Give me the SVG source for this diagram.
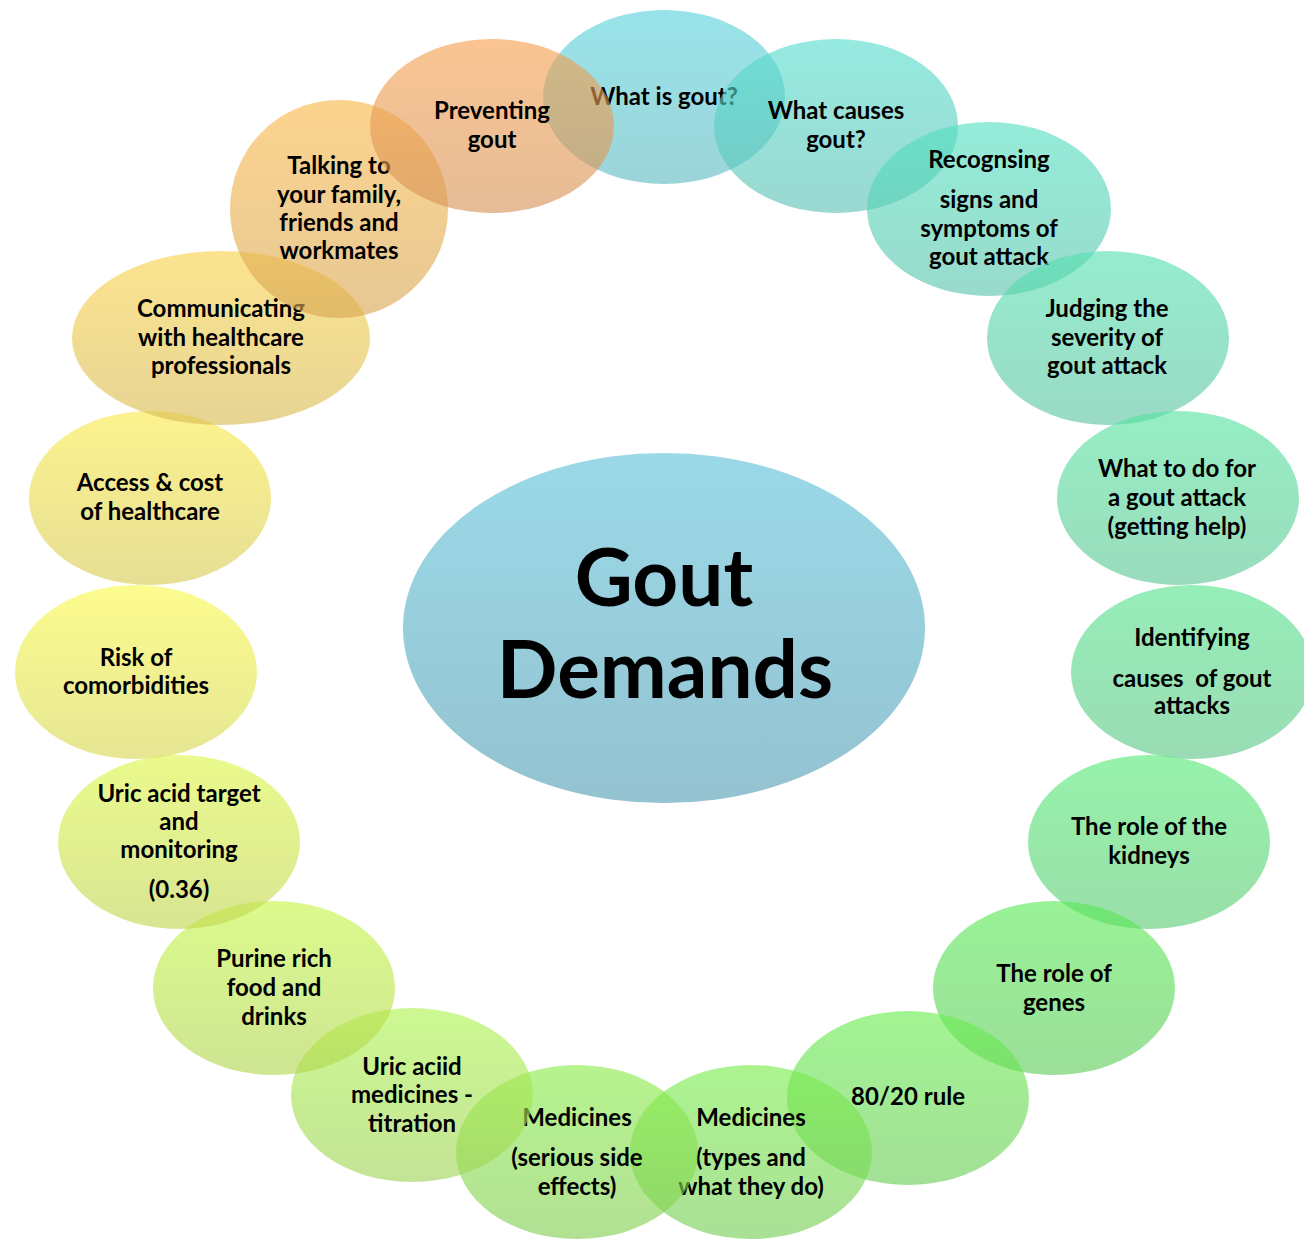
<svg xmlns="http://www.w3.org/2000/svg" width="1304" height="1239" viewBox="0 0 1304 1239">
  <style>
    .t { font-family: Lato, "Open Sans", "Liberation Sans", sans-serif; font-weight: 700; font-size: 24px; text-anchor: middle; fill: #000; white-space: pre; }
    .big { font-size: 80px; }
    .b { fill-opacity: 0.62; }
  </style>
  <defs>
    <linearGradient id="gc" x1="0" y1="0" x2="0" y2="1"><stop offset="0" stop-color="#9bd9e8"/><stop offset="1" stop-color="#94c2d0"/></linearGradient>
    <linearGradient id="g1" x1="0" y1="0" x2="0" y2="1"><stop offset="0" stop-color="rgb(89,211,221)"/><stop offset="1" stop-color="rgb(94,186,193)"/></linearGradient>
    <linearGradient id="g2" x1="0" y1="0" x2="0" y2="1"><stop offset="0" stop-color="rgb(85,221,205)"/><stop offset="1" stop-color="rgb(91,193,181)"/></linearGradient>
    <linearGradient id="g3" x1="0" y1="0" x2="0" y2="1"><stop offset="0" stop-color="rgb(82,224,192)"/><stop offset="1" stop-color="rgb(89,196,172)"/></linearGradient>
    <linearGradient id="g4" x1="0" y1="0" x2="0" y2="1"><stop offset="0" stop-color="rgb(85,224,176)"/><stop offset="1" stop-color="rgb(91,196,160)"/></linearGradient>
    <linearGradient id="g5" x1="0" y1="0" x2="0" y2="1"><stop offset="0" stop-color="rgb(85,227,160)"/><stop offset="1" stop-color="rgb(91,198,148)"/></linearGradient>
    <linearGradient id="g6" x1="0" y1="0" x2="0" y2="1"><stop offset="0" stop-color="rgb(85,227,140)"/><stop offset="1" stop-color="rgb(91,198,133)"/></linearGradient>
    <linearGradient id="g7" x1="0" y1="0" x2="0" y2="1"><stop offset="0" stop-color="rgb(85,234,118)"/><stop offset="1" stop-color="rgb(91,203,116)"/></linearGradient>
    <linearGradient id="g8" x1="0" y1="0" x2="0" y2="1"><stop offset="0" stop-color="rgb(89,234,85)"/><stop offset="1" stop-color="rgb(94,203,91)"/></linearGradient>
    <linearGradient id="g9" x1="0" y1="0" x2="0" y2="1"><stop offset="0" stop-color="rgb(105,237,79)"/><stop offset="1" stop-color="rgb(106,205,87)"/></linearGradient>
    <linearGradient id="g10" x1="0" y1="0" x2="0" y2="1"><stop offset="0" stop-color="rgb(121,237,76)"/><stop offset="1" stop-color="rgb(118,205,85)"/></linearGradient>
    <linearGradient id="g11" x1="0" y1="0" x2="0" y2="1"><stop offset="0" stop-color="rgb(137,237,73)"/><stop offset="1" stop-color="rgb(130,205,82)"/></linearGradient>
    <linearGradient id="g12" x1="0" y1="0" x2="0" y2="1"><stop offset="0" stop-color="rgb(174,244,77)"/><stop offset="1" stop-color="rgb(158,211,85)"/></linearGradient>
    <linearGradient id="g13" x1="0" y1="0" x2="0" y2="1"><stop offset="0" stop-color="rgb(198,247,69)"/><stop offset="1" stop-color="rgb(176,213,79)"/></linearGradient>
    <linearGradient id="g14" x1="0" y1="0" x2="0" y2="1"><stop offset="0" stop-color="rgb(221,247,69)"/><stop offset="1" stop-color="rgb(193,213,79)"/></linearGradient>
    <linearGradient id="g15" x1="0" y1="0" x2="0" y2="1"><stop offset="0" stop-color="rgb(250,250,73)"/><stop offset="1" stop-color="rgb(215,215,82)"/></linearGradient>
    <linearGradient id="g16" x1="0" y1="0" x2="0" y2="1"><stop offset="0" stop-color="rgb(250,234,73)"/><stop offset="1" stop-color="rgb(215,203,82)"/></linearGradient>
    <linearGradient id="g17" x1="0" y1="0" x2="0" y2="1"><stop offset="0" stop-color="rgb(250,211,73)"/><stop offset="1" stop-color="rgb(215,186,82)"/></linearGradient>
    <linearGradient id="g18" x1="0" y1="0" x2="0" y2="1"><stop offset="0" stop-color="rgb(250,185,73)"/><stop offset="1" stop-color="rgb(215,166,82)"/></linearGradient>
    <linearGradient id="g19" x1="0" y1="0" x2="0" y2="1"><stop offset="0" stop-color="rgb(247,160,79)"/><stop offset="1" stop-color="rgb(213,147,87)"/></linearGradient>
  </defs>

  <!-- central topic -->
  <g id="gout-demands">
    <ellipse cx="664" cy="628" rx="261" ry="175" fill="url(#gc)"/>
    <text class="t big" x="664" y="606">Gout</text>
    <text class="t big" x="665" y="698">Demands</text>
  </g>

  <!-- surrounding topics, clockwise from the top; each later bubble overlaps the previous one -->
  <g id="what-is-gout">
    <ellipse class="b" cx="664" cy="97" rx="121" ry="87" fill="url(#g1)"/>
    <text class="t" x="664" y="105">What is gout?</text>
  </g>
  <g id="what-causes-gout">
    <ellipse class="b" cx="836" cy="126" rx="122" ry="87" fill="url(#g2)"/>
    <text class="t" x="836" y="119">What causes</text>
    <text class="t" x="836" y="148">gout?</text>
  </g>
  <g id="recognising-signs">
    <ellipse class="b" cx="989" cy="209" rx="122" ry="87" fill="url(#g3)"/>
    <text class="t" x="989" y="168">Recognsing</text>
    <text class="t" x="989" y="208">signs and</text>
    <text class="t" x="989" y="237">symptoms of</text>
    <text class="t" x="989" y="265">gout attack</text>
  </g>
  <g id="judging-severity">
    <ellipse class="b" cx="1108" cy="338" rx="121" ry="87" fill="url(#g4)"/>
    <text class="t" x="1107" y="317">Judging the</text>
    <text class="t" x="1107" y="346">severity of</text>
    <text class="t" x="1107" y="374">gout attack</text>
  </g>
  <g id="what-to-do">
    <ellipse class="b" cx="1178" cy="498" rx="121" ry="87" fill="url(#g5)"/>
    <text class="t" x="1177" y="477">What to do for</text>
    <text class="t" x="1177" y="506">a gout attack</text>
    <text class="t" x="1177" y="535">(getting help)</text>
  </g>
  <g id="identifying-causes">
    <ellipse class="b" cx="1192" cy="672" rx="121" ry="87" fill="url(#g6)"/>
    <text class="t" x="1192" y="646">Identifying</text>
    <text class="t" x="1192" y="687">causes  of gout</text>
    <text class="t" x="1192" y="714">attacks</text>
  </g>
  <g id="role-of-kidneys">
    <ellipse class="b" cx="1149" cy="842" rx="121" ry="87" fill="url(#g7)"/>
    <text class="t" x="1149" y="835">The role of the</text>
    <text class="t" x="1149" y="864">kidneys</text>
  </g>
  <g id="role-of-genes">
    <ellipse class="b" cx="1054" cy="988" rx="121" ry="87" fill="url(#g8)"/>
    <text class="t" x="1054" y="982">The role of</text>
    <text class="t" x="1054" y="1011">genes</text>
  </g>
  <g id="rule-80-20">
    <ellipse class="b" cx="908" cy="1098" rx="121" ry="87" fill="url(#g9)"/>
    <text class="t" x="908" y="1105">80/20 rule</text>
  </g>
  <g id="medicines-types">
    <ellipse class="b" cx="751" cy="1152" rx="121" ry="87" fill="url(#g10)"/>
    <text class="t" x="751" y="1126">Medicines</text>
    <text class="t" x="751" y="1166">(types and</text>
    <text class="t" x="751" y="1195">what they do)</text>
  </g>
  <g id="medicines-side-effects">
    <ellipse class="b" cx="577" cy="1152" rx="121" ry="87" fill="url(#g11)"/>
    <text class="t" x="577" y="1126">Medicines</text>
    <text class="t" x="577" y="1166">(serious side</text>
    <text class="t" x="577" y="1195">effects)</text>
  </g>
  <g id="uric-acid-medicines">
    <ellipse class="b" cx="412" cy="1095" rx="121" ry="87" fill="url(#g12)"/>
    <text class="t" x="412" y="1075">Uric aciid</text>
    <text class="t" x="412" y="1103">medicines -</text>
    <text class="t" x="412" y="1132">titration</text>
  </g>
  <g id="purine-rich-food">
    <ellipse class="b" cx="274" cy="988" rx="121" ry="87" fill="url(#g13)"/>
    <text class="t" x="274" y="967">Purine rich</text>
    <text class="t" x="274" y="996">food and</text>
    <text class="t" x="274" y="1025">drinks</text>
  </g>
  <g id="uric-acid-target">
    <ellipse class="b" cx="179" cy="842" rx="121" ry="87" fill="url(#g14)"/>
    <text class="t" x="179" y="802">Uric acid target</text>
    <text class="t" x="179" y="830">and</text>
    <text class="t" x="179" y="858">monitoring</text>
    <text class="t" x="179" y="898">(0.36)</text>
  </g>
  <g id="risk-of-comorbidities">
    <ellipse class="b" cx="136" cy="672" rx="121" ry="87" fill="url(#g15)"/>
    <text class="t" x="136" y="666">Risk of</text>
    <text class="t" x="136" y="694">comorbidities</text>
  </g>
  <g id="access-and-cost">
    <ellipse class="b" cx="150" cy="498" rx="121" ry="87" fill="url(#g16)"/>
    <text class="t" x="150" y="491">Access &amp; cost</text>
    <text class="t" x="150" y="520">of healthcare</text>
  </g>
  <g id="communicating">
    <ellipse class="b" cx="221" cy="338" rx="149" ry="87" fill="url(#g17)"/>
    <text class="t" x="221" y="317">Communicating</text>
    <text class="t" x="221" y="346">with healthcare</text>
    <text class="t" x="221" y="374">professionals</text>
  </g>
  <g id="talking-to-family">
    <ellipse class="b" cx="339" cy="209" rx="109" ry="109" fill="url(#g18)"/>
    <text class="t" x="339" y="174">Talking to</text>
    <text class="t" x="339" y="203">your family,</text>
    <text class="t" x="339" y="231">friends and</text>
    <text class="t" x="339" y="259">workmates</text>
  </g>
  <g id="preventing-gout">
    <ellipse class="b" cx="492" cy="126" rx="122" ry="87" fill="url(#g19)"/>
    <text class="t" x="492" y="119">Preventing</text>
    <text class="t" x="492" y="148">gout</text>
  </g>
</svg>
